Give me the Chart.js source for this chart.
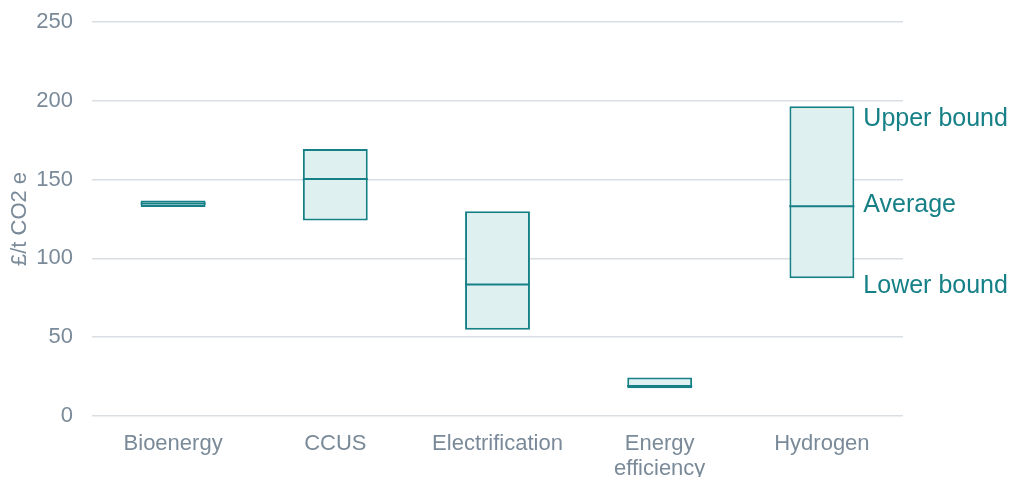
<!DOCTYPE html>
<html>
<head>
<meta charset="utf-8">
<script src="https://cdn.jsdelivr.net/npm/chart.js@4"></script>
<style>
  html, body { margin: 0; padding: 0; background: #fff; }
  #wrap { width: 1011px; height: 477px; }
</style>
</head>
<body>
<div id="wrap"><canvas id="costChart" width="1011" height="477"></canvas></div>
<script>
const categories = ['Bioenergy', 'CCUS', 'Electrification', ['Energy', 'efficiency'], 'Hydrogen'];
const lowerBound = [132.6, 124.0, 54.8, 17.6, 87.4];
const average = [134.8, 150.4, 83.4, 19.0, 133.1];
const upperBound = [136.7, 169.4, 129.9, 24.4, 196.5];
const yTicks = [0, 50, 100, 150, 200, 250];
const boundLabels = ['Upper bound', 'Average', 'Lower bound'];

const teal = '#168087';
const fill = '#dff0f0';
const greyText = '#7a8a99';
const fontFamily = '"Liberation Sans", Arial, sans-serif';

// labels next to the last box
const boundLabelPlugin = {
  id: 'boundLabels',
  afterDatasetsDraw(chart) {
    const ctx = chart.ctx;
    const last = categories.length - 1;
    const bar = chart.getDatasetMeta(0).data[last];
    const y = chart.scales.y;
    const x = bar.x + bar.width / 2 + 9;
    const values = [upperBound[last], average[last], lowerBound[last]];
    const offsets = [13, -1, 8];
    ctx.save();
    ctx.fillStyle = teal;
    ctx.font = '25px ' + fontFamily;
    ctx.textBaseline = 'middle';
    ctx.textAlign = 'left';
    boundLabels.forEach((txt, i) => {
      ctx.fillText(txt, x, y.getPixelForValue(values[i]) + offsets[i]);
    });
    ctx.restore();
  }
};

new Chart(document.getElementById('costChart'), {
  type: 'bar',
  data: {
    labels: categories,
    datasets: [
      {
        label: 'Range',
        data: lowerBound.map((v, i) => [v, upperBound[i]]),
        backgroundColor: fill,
        borderColor: teal,
        borderWidth: 2,
        borderSkipped: false,
        barPercentage: 0.4,
        categoryPercentage: 1,
        order: 1
      },
      {
        type: 'line',
        label: 'Average',
        data: average,
        showLine: false,
        pointStyle: 'line',
        pointRadius: 32.5,
        pointBorderWidth: 2,
        borderColor: teal,
        backgroundColor: teal,
        order: 0
      }
    ]
  },
  options: {
    responsive: false,
    animation: false,
    layout: { autoPadding: false, padding: { top: 22, right: 108, left: 0, bottom: 0 } },
    plugins: {
      legend: { display: false },
      tooltip: { enabled: false }
    },
    scales: {
      x: {
        offset: true,
        grid: { display: false },
        border: { display: false },
        ticks: {
          color: greyText,
          font: { family: fontFamily, size: 22, lineHeight: 1.15 },
          padding: 7,
          maxRotation: 0
        },
        afterFit(scale) { scale.height = 61; }
      },
      y: {
        min: 0,
        max: 250,
        afterBuildTicks(scale) { scale.ticks = yTicks.map(v => ({ value: v })); },
        grid: { color: '#d9dee3', lineWidth: 1.5, drawTicks: false },
        border: { display: false },
        ticks: {
          color: greyText,
          font: { family: fontFamily, size: 22 },
          padding: 19
        },
        title: {
          display: true,
          text: '£/t CO2 e',
          color: greyText,
          font: { family: fontFamily, size: 22 },
          padding: { top: 7, bottom: 0 }
        },
        afterFit(scale) {
          scale.width = 92;
          scale.paddingTop = 0;
          scale.paddingBottom = 0;
        }
      }
    }
  },
  plugins: [boundLabelPlugin]
});
</script>
</body>
</html>
